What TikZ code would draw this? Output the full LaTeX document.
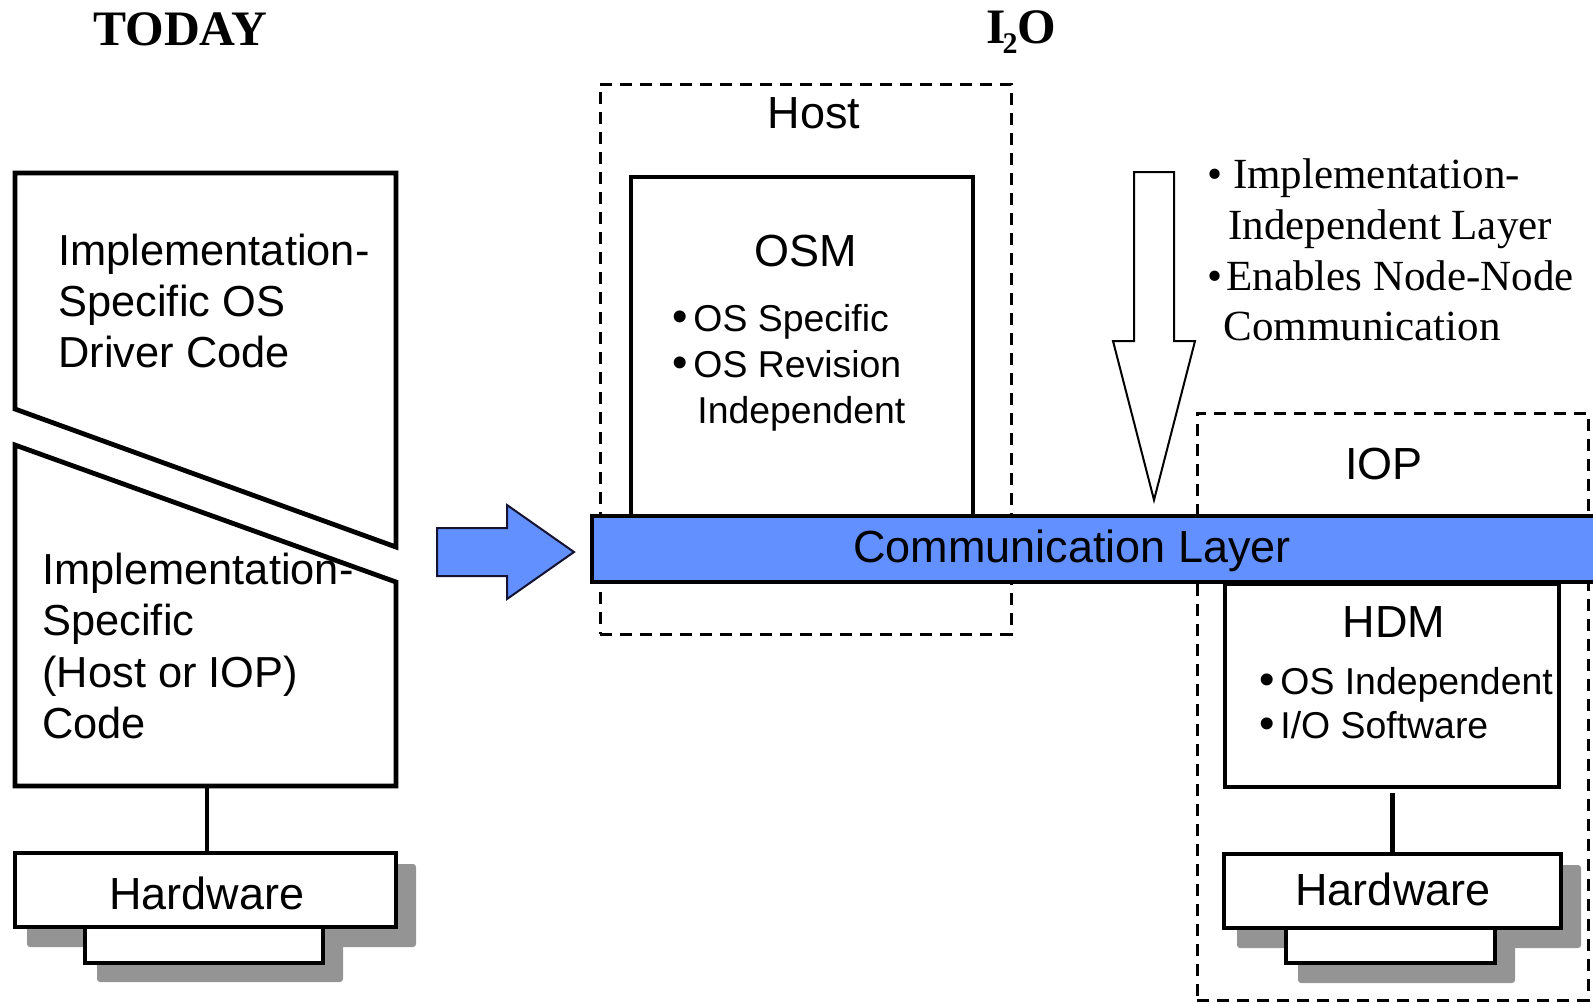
\documentclass[tikz,border=0pt]{standalone}
\usepackage{fontspec}
\setmainfont{Liberation Sans}
\newfontfamily\serifface{Liberation Serif}
\definecolor{layerblue}{RGB}{99,144,255}
\definecolor{shadowgray}{RGB}{148,148,148}
\definecolor{arrowedge}{RGB}{20,20,50}
\newcommand{\itemdot}{\llap{{\fontsize{22}{22}\selectfont •}\hspace{3pt}}}
\begin{document}
\begin{tikzpicture}[x=0.5pt,y=-0.5pt,
  box/.style={draw, line width=2.4pt, fill=white, inner sep=0pt, line join=miter},
  shade/.style={fill=shadowgray, rounded corners=1.5pt},
  container/.style={draw, line width=1.5pt, dash pattern=on 6pt off 4pt, inner sep=0pt},
  big/.style={font=\fontsize{22.5}{26}\selectfont, inner sep=0pt},
  code/.style={font=\fontsize{21.7}{26}\selectfont, inner sep=0pt, anchor=base west},
  item/.style={font=\fontsize{18.7}{22}\selectfont, inner sep=0pt, anchor=base west},
  note/.style={font=\serifface\fontsize{21.5}{25}\selectfont, inner sep=0pt, anchor=base west},
  title/.style={font=\serifface\bfseries\fontsize{24.8}{28}\selectfont, inner sep=0pt, anchor=base west}]
\useasboundingbox (0,0) rectangle (1593,1003);

% ---------- left column: today's driver stack ----------
\draw[line width=2.4pt, line join=miter] (15,173) -- (396,173) -- (396,547) -- (15,409) -- cycle;
\draw[line width=2.4pt, line join=miter] (15,445) -- (396,582) -- (396,786) -- (15,786) -- cycle;
\coordinate (codebot) at (207,786);

\fill[shade] (27,864) rectangle (416,947);
\fill[shade] (97,940) rectangle (343,982);
\node[box, minimum width=190.5pt, minimum height=37pt] (hwL) at (205.5,890) {};
\node[box, minimum width=119pt, minimum height=18pt] (hwLfoot) at (204,945) {};
\draw[line width=2.4pt] (codebot) -- (codebot |- hwL.north);

\node[code] (c1) at (58,265) {Implementation-};
\node[code] (c2) at (58,316) {Specific OS};
\node[code] (c3) at (58,367) {Driver Code};
\node[code] (d1) at (42,584) {Implementation-};
\node[code] (d2) at (42,635) {Specific};
\node[code] (d3) at (42,687) {(Host or IOP)};
\node[code] (d4) at (42,738) {Code};
\node[big, anchor=base] (hwLtext) at (207,909) {Hardware};

% ---------- transition arrow ----------
\draw[line width=1pt, line join=miter, draw=arrowedge, fill=layerblue]
  (437,528) -- (507,528) -- (507,505) -- (574,552) -- (507,599) -- (507,576) -- (437,576) -- cycle;

% ---------- I2O side: host and IOP containers ----------
\node[container, minimum width=205.5pt, minimum height=275pt] (host) at (805.5,359) {};
\node[container, minimum width=195.5pt, minimum height=293.5pt] (iop) at (1392.5,706.5) {};

\node[box, minimum width=171pt, minimum height=169.5pt] (osm) at (802,346.5) {};
\node[box, minimum width=167pt, minimum height=101.5pt] (hdm) at (1392,685.5) {};

\fill[shade] (1237,865) rectangle (1581,948);
\fill[shade] (1298,940) rectangle (1515,983);
\node[box, minimum width=168.5pt, minimum height=37pt] (hwR) at (1392.5,891) {};
\node[box, minimum width=104.5pt, minimum height=17.5pt] (hwRfoot) at (1390.5,945.5) {};
\draw[line width=2.4pt] (hdm.south -| hwR.north) ++(0,4) -- (hwR.north);

% communication layer bar, running off the right edge
\begin{scope}
  \clip (0,0) rectangle (1593,1003);
  \node[draw, line width=2.4pt, fill=layerblue, inner sep=0pt,
        minimum width=524pt, minimum height=33pt] (comm) at (1116,549) {};
\end{scope}

% downward arrow into the layer
\draw[line width=1pt, line join=miter, fill=white]
  (1134,172) -- (1174,172) -- (1174,341) -- (1195,341) -- (1154,500) -- (1113,341) -- (1134,341) -- cycle;

% ---------- labels ----------
\node[title] (today) at (93,45) {TODAY};
\node[title] (i2o) at (986,43) {I\kern-1.5pt\raisebox{-5pt}{\fontsize{15}{15}\selectfont 2}O};

\node[big, anchor=base] (hostlbl) at (814,128) {Host};
\node[big, anchor=base] (osmlbl) at (806,266) {OSM};
\node[item] (o1) at (693,331) {\itemdot OS Specific};
\node[item] (o2) at (693,377) {\itemdot OS Revision};
\node[item] (o3) at (697,423) {Independent};

\node[big, anchor=base] (commlbl) at (1072,562) {Communication Layer};

\node[big, anchor=base] (ioplbl) at (1384,479) {IOP};
\node[big, anchor=base] (hdmlbl) at (1394,637) {HDM};
\node[item] (h1) at (1280,694) {\itemdot OS Independent};
\node[item] (h2) at (1280,738) {\itemdot I/O Software};
\node[big, anchor=base] (hwRtext) at (1393,905) {Hardware};

\node[note] (n1) at (1207,188) {• Implementation-};
\node[note] (n2) at (1228,239) {Independent Layer};
\node[note] (n3) at (1207,290) {•\hspace{2pt}Enables Node-Node};
\node[note] (n4) at (1223,340) {Communication};
\end{tikzpicture}
\end{document}
